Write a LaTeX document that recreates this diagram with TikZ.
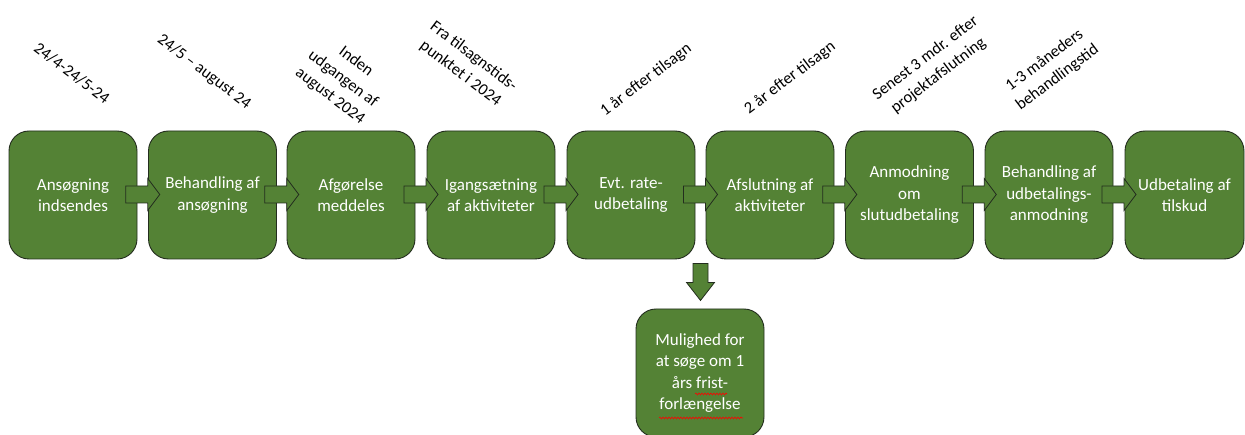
\documentclass[tikz,border=0pt]{standalone}
\usepackage{fontspec}
\setmainfont{Carlito}
\usetikzlibrary{decorations.pathmorphing,calc}
\definecolor{boxgreen}{RGB}{84,130,53}
\definecolor{edgedark}{RGB}{35,45,30}
\tikzset{
  stepbox/.style={draw=edgedark, line width=0.9pt, fill=boxgreen, rounded corners=20pt,
    minimum width=128pt, minimum height=128pt, inner sep=2pt, text=white, align=center,
    font=\fontsize{17}{21.5}\selectfont},
  blockarrow/.style={draw=edgedark, line width=0.8pt, fill=boxgreen, line join=miter},
  datelabel/.style={align=center, text=black, inner sep=0pt, font=\fontsize{16.5}{21.5}\selectfont},
  spell/.style={draw=red, line width=0.6pt, decorate, decoration={snake, amplitude=0.9pt, segment length=3pt}}
}
\begin{document}
\begin{tikzpicture}[x=1pt,y=-1pt]
\useasboundingbox (0,0) rectangle (1245,435);

\node[stepbox] (b1) at (73,195) {Ansøgning\\indsendes};
\node[stepbox] (b2) at (212.5,195) {Behandling af\\ansøgning};
\node[stepbox] (b3) at (351,195) {Afgørelse\\meddeles};
\node[stepbox] (b4) at (491,195) {Igangsætning\\af aktiviteter};
\node[stepbox] (b5) at (631,195) {Evt. rate-\\udbetaling};
\node[stepbox] (b6) at (770,195) {Afslutning af\\aktiviteter};
\node[stepbox] (b7) at (909.5,195) {Anmodning\\om\\slutudbetaling};
\node[stepbox] (b8) at (1049,195) {Behandling af\\udbetalings-\\anmodning};
\node[stepbox, minimum width=119pt] (b9) at (1184.5,195) {Udbetaling af\\tilskud};
\node[stepbox] (b10) at (700,373) {Mulighed for\\at søge om 1\\års frist-\\forlængelse};

% horizontal block arrows: from inside box \a to inside box \b
\foreach \a/\b in {b1/b2,b2/b3,b3/b4,b4/b5,b5/b6,b6/b7,b7/b8,b8/b9}{
  \coordinate (s-\a) at ($(\a.east)!0.5!(\b.west)+(-17,-0.5)$);
  \draw[blockarrow] ($(s-\a)+(0,-8.5)$) -- ++(22,0) -- ++(0,-7.5) -- ++(12,16)
     -- ++(-12,16) -- ++(0,-7.5) -- ++(-22,0) -- cycle;
}
% down block arrow below the gap between b5 and b6, pointing to b10
\path (b5.south east) -- (b6.south west) coordinate[pos=0.5] (gapb);
\coordinate (dtop) at ($(gapb)+(0,4)$);
\draw[blockarrow] ($(dtop)+(-7.5,0)$) -- ++(15,0) -- ++(0,19) -- ++(6.5,0) -- ++(-14,18)
   -- ++(-14,-18) -- ++(6.5,0) -- cycle;

\draw[spell] ($(b10.center)+(-5,21)$) -- ($(b10.center)+(27,21)$);
\draw[spell] ($(b10.center)+(-41,45)$) -- ($(b10.center)+(43,45)$);

\node[datelabel, rotate=-37] (l1) at (72,73) {24/4-24/5-24};
\node[datelabel, rotate=-37] (l2) at (204,72) {24/5 – august 24};
\node[datelabel, rotate=-37] (l3) at (343,79) {Inden\\udgangen af\\august 2024};
\node[datelabel, rotate=-37] (l4) at (467,65) {Fra tilsagnstids-\\punktet i 2024};
\node[datelabel, rotate=37] (l5) at (646,80) {1 år efter tilsagn};
\node[datelabel, rotate=37] (l6) at (790,78) {2 år efter tilsagn};
\node[datelabel, rotate=37] (l7) at (932,67) {Senest 3 mdr. efter\\projektafslutning};
\node[datelabel, rotate=37] (l8) at (1051,69) {1-3 måneders\\behandlingstid};
\end{tikzpicture}
\end{document}
